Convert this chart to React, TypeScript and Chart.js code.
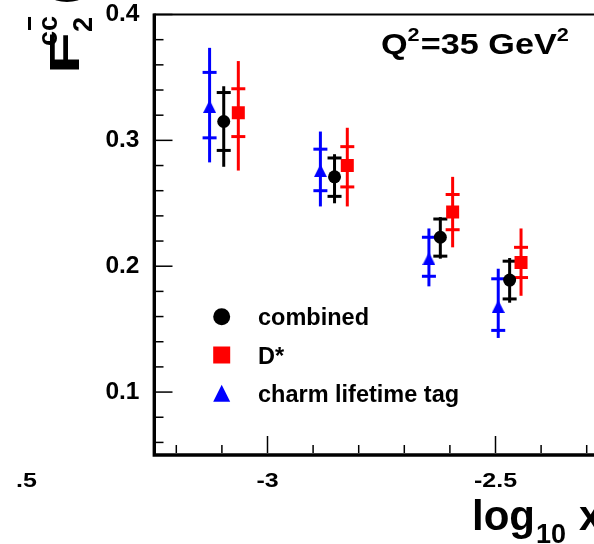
import React, { useEffect, useRef } from 'react';
import { Chart, registerables } from 'chart.js';

Chart.register(...registerables);

// ---------- data ----------
const seriesLabels = ['combined', 'D*', 'charm lifetime tag'];

const combinedX = [-3.096, -2.853, -2.621, -2.469];
const combinedY = [0.315, 0.271, 0.223, 0.189];
const combinedStatHi = [0.338, 0.286, 0.2375, 0.204];
const combinedStatLo = [0.292, 0.2555, 0.208, 0.174];
const combinedTotHi = [0.343, 0.289, 0.239, 0.2065];
const combinedTotLo = [0.279, 0.25, 0.206, 0.171];

const dstarX = [-3.064, -2.825, -2.594, -2.444];
const dstarY = [0.322, 0.28, 0.243, 0.203];
const dstarStatHi = [0.341, 0.295, 0.257, 0.215];
const dstarStatLo = [0.303, 0.263, 0.229, 0.191];
const dstarTotHi = [0.363, 0.31, 0.271, 0.23];
const dstarTotLo = [0.276, 0.2475, 0.215, 0.1765];

const lifetimeX = [-3.127, -2.884, -2.646, -2.494];
const lifetimeY = [0.327, 0.276, 0.206, 0.168];
const lifetimeStatHi = [0.354, 0.293, 0.223, 0.19];
const lifetimeStatLo = [0.302, 0.26, 0.192, 0.149];
const lifetimeTotHi = [0.3735, 0.307, 0.23, 0.198];
const lifetimeTotLo = [0.2825, 0.2475, 0.184, 0.143];

const xTickValues = [-3, -2.5];
const xTickLabels = ['-3', '-2.5'];
const yTickValues = [0.1, 0.2, 0.3, 0.4];
const yTickLabels = ['0.1', '0.2', '0.3', '0.4'];

const X_MIN = -3.25;
const X_MAX = -2.2;
const Y_MIN = 0.05;
const Y_MAX = 0.4;

const titleText = ['Q', '2', '=35 GeV', '2'];

// ---------- styles ----------
const FONT = '"Liberation Sans", Arial, Helvetica, sans-serif';
const BLACK = '#000000';
const RED = '#ff0000';
const BLUE = '#0000ff';
const CANVAS_W = 660;
const CANVAS_H = 544;
const TOP_PX = 14.5;

function makeTriangle(size: number, color: string) {
  const c = document.createElement('canvas');
  c.width = size;
  c.height = size;
  const g = c.getContext('2d')!;
  g.fillStyle = color;
  g.beginPath();
  g.moveTo(size / 2, 0);
  g.lineTo(size, size);
  g.lineTo(0, size);
  g.closePath();
  g.fill();
  return c;
}

function drawMarker(ctx: CanvasRenderingContext2D, kind: string, x: number, y: number, s: number, color: string) {
  ctx.fillStyle = color;
  ctx.beginPath();
  if (kind === 'circle') {
    ctx.arc(x, y, s / 2, 0, Math.PI * 2);
  } else if (kind === 'rect') {
    ctx.rect(x - s / 2, y - s / 2, s, s);
  } else {
    ctx.moveTo(x, y - s / 2);
    ctx.lineTo(x + s / 2, y + s / 2);
    ctx.lineTo(x - s / 2, y + s / 2);
    ctx.closePath();
  }
  ctx.fill();
}

const errorBarsPlugin = {
  id: 'errorBars',
  beforeDatasetsDraw(chart: any) {
    const ctx = chart.ctx as CanvasRenderingContext2D;
    const xs = chart.scales.x;
    const ys = chart.scales.y;
    ctx.save();
    chart.data.datasets.forEach((ds: any) => {
      ctx.strokeStyle = ds.backgroundColor;
      ctx.lineWidth = 3;
      ds.data.forEach((p: any, j: number) => {
        const px = xs.getPixelForValue(p.x);
        const yTop = ys.getPixelForValue(ds.totHi[j]);
        const yBot = ys.getPixelForValue(ds.totLo[j]);
        ctx.beginPath();
        ctx.moveTo(px, yTop);
        ctx.lineTo(px, yBot);
        ctx.stroke();
        [ds.statHi[j], ds.statLo[j]].forEach((v: number) => {
          const py = ys.getPixelForValue(v);
          ctx.beginPath();
          ctx.moveTo(px - 7, py);
          ctx.lineTo(px + 7, py);
          ctx.stroke();
        });
      });
    });
    ctx.restore();
  },
};

const decorPlugin = {
  id: 'decor',
  afterDraw(chart: any) {
    const ctx = chart.ctx as CanvasRenderingContext2D;
    const area = chart.chartArea;
    const xs = chart.scales.x;
    const ys = chart.scales.y;
    ctx.save();
    ctx.strokeStyle = BLACK;
    ctx.fillStyle = BLACK;

    // frame
    ctx.lineWidth = 3.4;
    ctx.beginPath();
    ctx.moveTo(area.left + 0.8, area.top - 1);
    ctx.lineTo(area.left + 0.8, area.bottom);
    ctx.lineTo(area.right, area.bottom);
    ctx.stroke();
    ctx.lineWidth = 2.2;
    ctx.beginPath();
    ctx.moveTo(area.left, area.top);
    ctx.lineTo(area.right, area.top);
    ctx.stroke();

    // inward tick marks
    ctx.lineWidth = 1.5;
    for (let k = 3; k <= 20; k++) {
      const v = k * 0.02;
      const py = ys.getPixelForValue(v);
      const len = k % 5 === 0 ? 17 : 8;
      ctx.beginPath();
      ctx.moveTo(area.left + 2, py);
      ctx.lineTo(area.left + 2 + len, py);
      ctx.stroke();
    }
    for (let k = -32; k <= -22; k++) {
      const v = k / 10;
      const px = xs.getPixelForValue(v);
      const len = k % 5 === 0 ? 17 : 8;
      ctx.beginPath();
      ctx.moveTo(px, area.bottom - 2);
      ctx.lineTo(px, area.bottom - 2 - len);
      ctx.stroke();
    }

    // x tick labels (stretched like the reference)
    ctx.font = `bold 20px ${FONT}`;
    ctx.textBaseline = 'alphabetic';
    xTickValues.forEach((v, i) => {
      const px = xs.getPixelForValue(v);
      ctx.save();
      ctx.translate(px, 487);
      ctx.scale(1.25, 1);
      ctx.textAlign = 'center';
      ctx.fillText(xTickLabels[i], 0, 0);
      ctx.restore();
    });
    // cut label of the neighbouring panel
    ctx.save();
    ctx.translate(16, 487);
    ctx.scale(1.25, 1);
    ctx.textAlign = 'left';
    ctx.fillText('.5', 0, 0);
    ctx.restore();

    // x axis title
    ctx.textAlign = 'left';
    ctx.font = `bold 42px ${FONT}`;
    ctx.fillText('log', 472, 530);
    let wx = 472 + ctx.measureText('log').width + 1;
    ctx.font = `bold 27px ${FONT}`;
    ctx.fillText('10', wx, 543);
    wx += ctx.measureText('10').width + 13;
    ctx.font = `bold 42px ${FONT}`;
    ctx.fillText('x', wx, 530);

    // y axis title (rotated)
    ctx.save();
    ctx.rotate(-Math.PI / 2);
    ctx.font = `bold 43px ${FONT}`;
    ctx.save();
    ctx.translate(-74, 78.5);
    ctx.scale(1.6, 1);
    ctx.fillText('F', 0, 0);
    ctx.restore();
    ctx.font = `bold 27px ${FONT}`;
    ctx.fillText('cc', -46, 57);
    const wc = ctx.measureText('c').width;
    ctx.fillRect(-46 + wc + 1, 28, wc - 2, 3);
    ctx.fillText('2', -32, 92);
    ctx.font = `bold 42px ${FONT}`;
    ctx.fillText('(x,Q', -4, 78);
    ctx.restore();

    // Q^2 label
    ctx.save();
    ctx.translate(381, 54);
    ctx.scale(1.14, 1);
    let tx = 0;
    titleText.forEach((t, i) => {
      const sup = i % 2 === 1;
      ctx.font = sup ? `bold 19px ${FONT}` : `bold 30px ${FONT}`;
      ctx.fillText(t, tx, sup ? -13 : 0);
      tx += ctx.measureText(t).width + (sup ? 1 : 0);
    });
    ctx.restore();

    // legend
    const kinds = ['circle', 'rect', 'triangle'];
    const colors = [BLACK, RED, BLUE];
    const rowY = [316.7, 355, 393.3];
    ctx.font = `bold 23.5px ${FONT}`;
    ctx.textAlign = 'left';
    seriesLabels.forEach((lab, i) => {
      drawMarker(ctx, kinds[i], 221.7, rowY[i], 17, colors[i]);
      ctx.fillStyle = BLACK;
      ctx.fillText(lab, 258, rowY[i] + 8.5);
    });

    ctx.restore();
  },
};

export default function App() {
  const ref = useRef<HTMLCanvasElement>(null);

  useEffect(() => {
    const canvas = ref.current!;
    const tri = makeTriangle(13, BLUE);
    const pts = (xs: number[], ys: number[]) => xs.map((x, i) => ({ x, y: ys[i] }));
    const chart = new Chart(canvas, {
      type: 'scatter',
      data: {
        datasets: [
          {
            label: seriesLabels[2],
            data: pts(lifetimeX, lifetimeY),
            pointStyle: tri as any,
            pointRadius: 6.5,
            backgroundColor: BLUE,
            borderWidth: 0,
            statHi: lifetimeStatHi,
            statLo: lifetimeStatLo,
            totHi: lifetimeTotHi,
            totLo: lifetimeTotLo,
          } as any,
          {
            label: seriesLabels[0],
            data: pts(combinedX, combinedY),
            pointStyle: 'circle',
            pointRadius: 6.5,
            backgroundColor: BLACK,
            borderWidth: 0,
            statHi: combinedStatHi,
            statLo: combinedStatLo,
            totHi: combinedTotHi,
            totLo: combinedTotLo,
          } as any,
          {
            label: seriesLabels[1],
            data: pts(dstarX, dstarY),
            pointStyle: 'rect',
            pointRadius: 9.2,
            backgroundColor: RED,
            borderWidth: 0,
            statHi: dstarStatHi,
            statLo: dstarStatLo,
            totHi: dstarTotHi,
            totLo: dstarTotLo,
          } as any,
        ],
      },
      options: {
        responsive: false,
        maintainAspectRatio: false,
        animation: false,
        devicePixelRatio: 1,
        layout: {
          padding: { left: 0, top: TOP_PX, right: CANVAS_W - 632.3, bottom: 0 },
        },
        plugins: { legend: { display: false }, tooltip: { enabled: false } },
        scales: {
          x: {
            type: 'linear',
            min: X_MIN,
            max: X_MAX,
            grid: { display: false, drawTicks: false },
            border: { display: false },
            ticks: { display: false },
            afterBuildTicks: (s: any) => {
              s.ticks = xTickValues.map((v) => ({ value: v }));
            },
            afterFit: (s: any) => {
              s.height = 89;
              s.paddingLeft = 0;
              s.paddingRight = 0;
            },
          },
          y: {
            type: 'linear',
            min: Y_MIN,
            max: Y_MAX,
            grid: { display: false, drawTicks: false },
            border: { display: false },
            ticks: {
              color: BLACK,
              padding: 14,
              font: { family: FONT, size: 24.5, weight: 'bold' },
              callback: (v: any) => {
                const i = yTickValues.findIndex((t) => Math.abs(t - Number(v)) < 1e-9);
                return i >= 0 ? yTickLabels[i] : '';
              },
            },
            afterBuildTicks: (s: any) => {
              s.ticks = yTickValues.map((v) => ({ value: v }));
            },
            afterFit: (s: any) => {
              s.width = 153.5;
              s.paddingTop = 0;
              s.paddingBottom = 0;
            },
          },
        },
      } as any,
      plugins: [errorBarsPlugin, decorPlugin],
    });
    return () => chart.destroy();
  }, []);

  return (
    <div
      style={{
        position: 'fixed',
        left: 0,
        top: 0,
        width: 594,
        height: 544,
        overflow: 'hidden',
        background: '#ffffff',
      }}
    >
      <canvas ref={ref} width={CANVAS_W} height={CANVAS_H} style={{ display: 'block', width: CANVAS_W, height: CANVAS_H }} />
    </div>
  );
}
